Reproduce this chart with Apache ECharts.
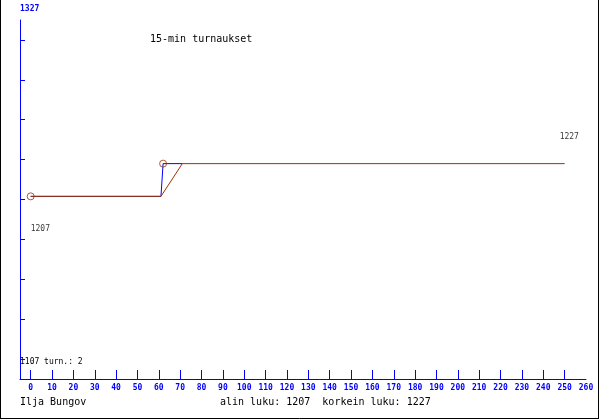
<!DOCTYPE html>
<html>
<head>
<meta charset="utf-8">
<script src="https://cdn.jsdelivr.net/npm/echarts@6/dist/echarts.min.js"></script>
<style>html,body{margin:0;padding:0;background:#fff}#c{width:600px;height:420px}</style>
</head>
<body>
<div id="c"></div>
<script>
// ---- data ----
var titleText = '15-min turnaukset';
var author = 'Ilja Bungov';
var yMin = 1107, yMax = 1327;
var xMin = -5, xMax = 260;
var xTickLabels = [0,10,20,30,40,50,60,70,80,90,100,110,120,130,140,150,160,170,180,190,200,210,220,230,240,250,260];
var xTicks = [0,10,20,30,40,50,60,70,80,90,100,110,120,130,140,150,160,170,180,190,200,210,220,230,240,250];
var brownX = [0, 61, 71, 250];
var brownY = [1207, 1207, 1227, 1227];
var blueX = [0, 61, 62, 71];
var blueY = [1207, 1207, 1227, 1227];
var turnX = [0, 62];
var turnY = [1207, 1227];

var BLUE = '#0000ff', BROWN = '#993300';
var lo = Math.min.apply(null, brownY), hi = Math.max.apply(null, brownY);
function pairs(xs, ys){ return xs.map(function(x,i){ return [x, ys[i]]; }); }
var brownData = pairs(brownX, brownY);
var last = brownData.length - 1;

var chart = echarts.init(document.getElementById('c'), null, {renderer:'canvas'});
chart.setOption({
  animation: false,
  backgroundColor: '#fff',
  grid: [
    {left: 20, top: 0, width: 566, height: 360},
    {left: 20, top: 20, width: 566, height: 359}
  ],
  xAxis: [
    {gridIndex: 0, type: 'value', min: xMin, max: xMax, show: false},
    {gridIndex: 1, type: 'value', min: xMin, max: xMax,
     axisLine: {show: true, onZero: false, lineStyle: {color: BLUE, width: 1}},
     axisTick: {show: true, inside: true, length: 9, customValues: xTicks, lineStyle: {color: BLUE}},
     axisLabel: {show: true, customValues: xTickLabels, color: BLUE, fontFamily: 'DejaVu Sans Mono', fontWeight: 'bold', fontSize: 8, margin: 5},
     splitLine: {show: false}}
  ],
  yAxis: [
    {gridIndex: 0, type: 'value', min: yMin, max: yMax, show: false},
    {gridIndex: 1, type: 'value', min: 0, max: 9,
     name: String(yMax), nameLocation: 'end', nameGap: 7,
     nameTextStyle: {color: BLUE, fontFamily: 'DejaVu Sans Mono', fontWeight: 'bold', fontSize: 8, align: 'left', padding: [0,0,0,0]},
     axisLine: {show: true, onZero: false, lineStyle: {color: BLUE, width: 1}},
     axisTick: {show: true, inside: true, length: 5, customValues: [0.5,1.5,2.5,3.5,4.5,5.5,6.5,7.5,8.5], lineStyle: {color: BLUE}},
     axisLabel: {show: false},
     splitLine: {show: false}}
  ],
  series: [
    {type: 'line', xAxisIndex: 0, yAxisIndex: 0, data: pairs(blueX, blueY), showSymbol: false, symbol: 'none',
     lineStyle: {color: BLUE, width: 1}, z: 2},
    {type: 'line', xAxisIndex: 0, yAxisIndex: 0, data: brownData, showSymbol: false, symbol: 'none',
     lineStyle: {color: BROWN, width: 1}, z: 3},
    {type: 'scatter', xAxisIndex: 0, yAxisIndex: 0, data: pairs(turnX, turnY), symbol: 'circle', symbolSize: 7,
     itemStyle: {color: 'rgba(0,0,0,0)', borderColor: BROWN, borderWidth: 1}, z: 4},
    {type: 'scatter', xAxisIndex: 0, yAxisIndex: 0, symbolSize: 1, itemStyle: {color: 'rgba(0,0,0,0)'}, z: 5,
     data: [
       {value: brownData[0], label: {show: true, position: 'inside', align: 'left', verticalAlign: 'middle', offset: [0, 33]}},
       {value: brownData[last], label: {show: true, position: 'inside', align: 'left', verticalAlign: 'middle', offset: [-5, -27]}}
     ],
     label: {formatter: function(p){ return String(p.value[1]); }, color: '#000', fontFamily: 'DejaVu Sans Mono', fontSize: 8}}
  ],
  graphic: [
    {type: 'text', left: 150, top: 34, style: {text: titleText, fill: '#000', font: '10px "DejaVu Sans Mono"'}},
    {type: 'text', left: 20, top: 358, style: {text: yMin + ' turn.: ' + turnX.length, fill: '#000', font: '8px "DejaVu Sans Mono"'}},
    {type: 'text', left: 20, top: 397, style: {text: author, fill: '#000', font: '10px "DejaVu Sans Mono"'}},
    {type: 'text', left: 220, top: 397, style: {text: 'alin luku: ' + lo + '  korkein luku: ' + hi, fill: '#000', font: '10px "DejaVu Sans Mono"'}},
    {type: 'line', shape: {x1: 0.5, y1: 0, x2: 0.5, y2: 419}, style: {stroke: '#000', lineWidth: 1}},
    {type: 'line', shape: {x1: 598.5, y1: 0, x2: 598.5, y2: 419}, style: {stroke: '#000', lineWidth: 1}},
    {type: 'line', shape: {x1: 0, y1: 418.5, x2: 599, y2: 418.5}, style: {stroke: '#000', lineWidth: 1}}
  ]
});
</script>
</body>
</html>
